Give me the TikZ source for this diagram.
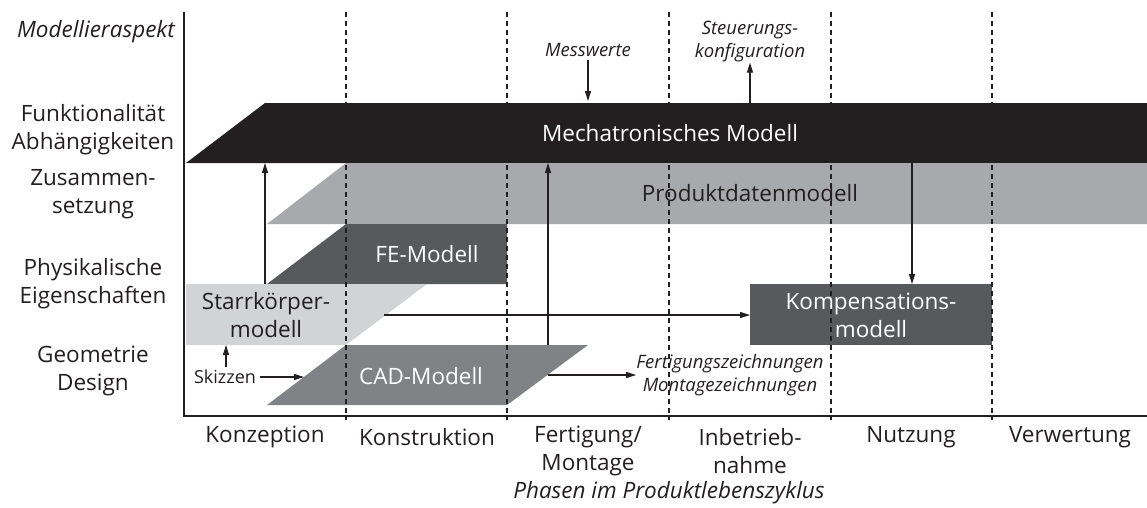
\documentclass[tikz,border=0pt]{standalone}
\usepackage{fontspec}
\setmainfont{Open Sans}
\usetikzlibrary{arrows.meta}
\definecolor{inkblack}{HTML}{231F20}
\definecolor{bandgray}{HTML}{A7A9AC}
\definecolor{mdark}{HTML}{58595B}
\definecolor{lightfill}{HTML}{D1D3D4}
\definecolor{midfill}{HTML}{808285}
\begin{document}
\begin{tikzpicture}[x=1pt,y=-1pt,
  lbl/.style={font=\fontsize{22.5}{28}\selectfont, align=center, inner sep=0pt, text=inkblack},
  wlbl/.style={lbl, text=white},
  note/.style={font=\fontsize{18.5}{23}\selectfont\itshape, align=center, inner sep=0pt, text=inkblack},
  flow/.style={-{Triangle[length=10pt,width=6pt]}, line width=1.1pt, draw=inkblack},
  phaseline/.style={draw=inkblack, line width=1.2pt, dash pattern=on 4.5pt off 4.5pt},
  axisline/.style={draw=inkblack, line width=2.4pt}]
\useasboundingbox (0,0) rectangle (1147,507);

% model layers
\fill[inkblack] (186,163) -- (265,103) -- (1147,103) -- (1147,163) -- cycle;
\fill[bandgray] (267,224) -- (346,163) -- (1147,163) -- (1147,224) -- cycle;
\fill[mdark] (267,284) -- (346,224) -- (507,224) -- (507,284) -- cycle;
\fill[lightfill] (186,284) -- (427,284) -- (346,345) -- (186,345) -- cycle;
\fill[midfill] (267,405) -- (346,345) -- (588,345) -- (507,405) -- cycle;
\fill[mdark] (750,284) rectangle (992,345);

% phase separators
\foreach \px in {346,507,669,831,992}
  \draw[phaseline] (\px,12) -- (\px,420);

% axes
\draw[axisline] (184,12) -- (184,416) -- (1147,416);

% model names
\node[wlbl] (mech) at (670,133) {Mechatronisches Modell};
\node[lbl] (pdm) at (750,193) {Produktdatenmodell};
\node[wlbl] (fem) at (427,254) {FE-Modell};
\node[lbl] (srb) at (266,315) {Starrkörper-\\modell};
\node[wlbl] (cad) at (421,376) {CAD-Modell};
\node[wlbl] (komp) at (871,315) {Kompensations-\\modell};

% aspect labels
\node[lbl, font=\fontsize{22.5}{28}\selectfont\itshape] (aspect) at (96,32) {Modellieraspekt};
\node[lbl] (funk) at (93,130) {Funktionalität\\Abhängigkeiten};
\node[lbl] (zus) at (93,194) {Zusammen-\\setzung};
\node[lbl] (phys) at (93,284) {Physikalische\\Eigenschaften};
\node[lbl] (geo) at (93,371) {Geometrie\\Design};

% phase labels
\node[lbl] (p1) at (265,437) {Konzeption};
\node[lbl] (p2) at (427,437) {Konstruktion};
\node[lbl] (p3) at (588,451) {Fertigung/\\Montage};
\node[lbl] (p4) at (750,451) {Inbetrieb-\\nahme};
\node[lbl] (p5) at (911,437) {Nutzung};
\node[lbl] (p6) at (1070,437) {Verwertung};
\node[lbl, font=\fontsize{22.5}{28}\selectfont\itshape] (phasen) at (669,493) {Phasen im Produktlebenszyklus};

% inputs and outputs
\node[note] (mess) at (588,50) {Messwerte};
\node[note] (steu) at (750,42) {Steuerungs-\\konfiguration};
\node[note] (zeich) at (730,375) {Fertigungszeichnungen\\Montagezeichnungen};
\node[lbl, font=\fontsize{18}{22}\selectfont] (skiz) at (225,377) {Skizzen};

% connector end points on the layer edges
\coordinate (mechtopA) at (588,101);
\coordinate (mechtopB) at (750,103);
\coordinate (mechbotA) at (265,163);
\coordinate (mechbotB) at (548,163);
\coordinate (pdmout) at (912,163);
\coordinate (kompin) at (912,284);
\coordinate (komplft) at (750,315);
\coordinate (srbtop) at (265,284);
\coordinate (srbbot) at (226,345);
\coordinate (srbedge) at (384,315);
\coordinate (cadtop) at (548,345);
\coordinate (cadedge) at (548,375);
\coordinate (cadlft) at (304,377);

\draw[flow] (mess.south) ++(0,3) -- (mechtopA);
\draw[flow] (mechtopB) -- (steu.south -| mechtopB);
\draw[flow] (srbtop) -- (mechbotA);
\draw[flow] (cadtop) -- (mechbotB);
\draw[flow] (pdmout) -- (kompin);
\draw[flow] (srbedge) -- (komplft);
\draw[flow] (cadedge) -- (zeich.west |- cadedge);
\draw[flow] (skiz.east) ++(4,0) -- (cadlft);
\draw[flow] (skiz.north -| srbbot) ++(0,-3) -- (srbbot);
\end{tikzpicture}
\end{document}
